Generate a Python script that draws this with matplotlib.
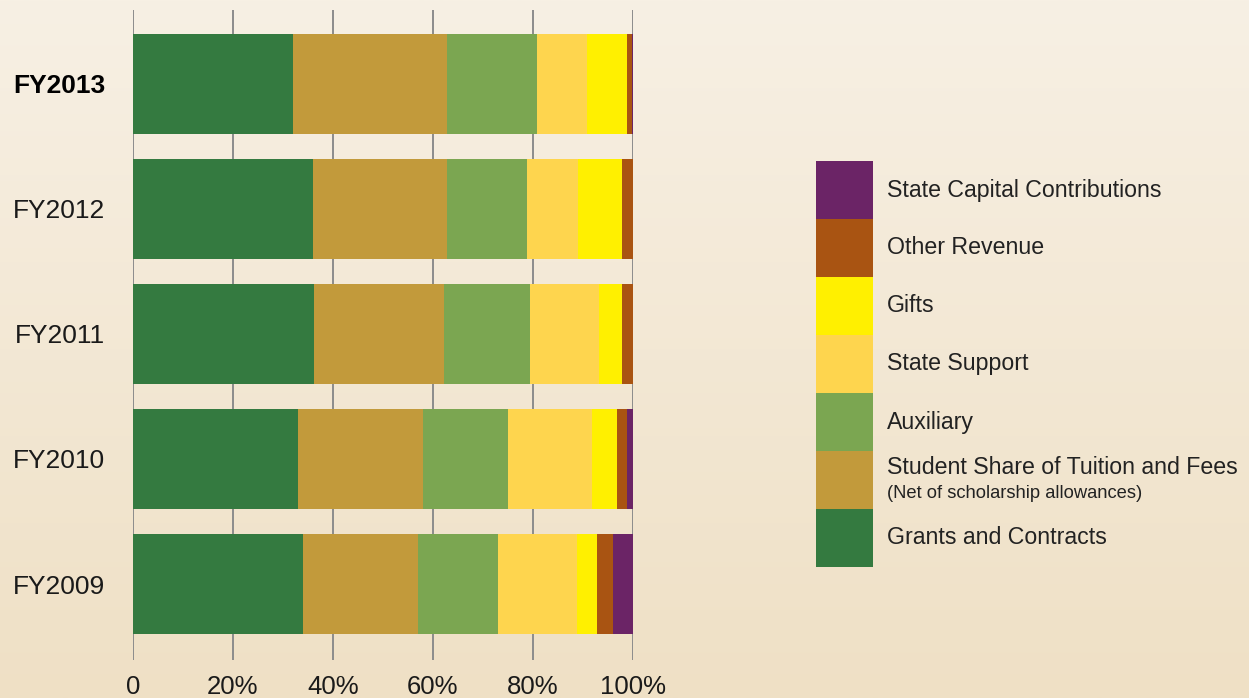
import numpy as np
import matplotlib
matplotlib.use("Agg")
import matplotlib.pyplot as plt
from matplotlib.patches import Rectangle

plt.rcParams['font.family'] = ['Liberation Sans', 'DejaVu Sans']

# Revenue mix by fiscal year (percent of total)
years = ["FY2009", "FY2010", "FY2011", "FY2012", "FY2013"]
grants = [34.0, 33.0, 36.2, 36.0, 32.0]
tuition = [23.0, 25.0, 26.0, 26.8, 30.8]
auxiliary = [16.0, 17.0, 17.2, 16.0, 18.0]
state_support = [15.8, 16.8, 13.8, 10.1, 10.0]
gifts = [4.0, 5.0, 4.6, 8.9, 8.0]
other_revenue = [3.2, 2.0, 2.2, 2.2, 1.0]
state_capital = [4.0, 1.2, 0.0, 0.0, 0.2]

series = [grants, tuition, auxiliary, state_support, gifts, other_revenue, state_capital]
colors = ["#347a40", "#c29a3b", "#7ba651", "#fed54e", "#fff000", "#a95412", "#6b2466"]
legend_labels = ["State Capital Contributions", "Other Revenue", "Gifts", "State Support",
                 "Auxiliary", "Student Share of Tuition and Fees", "Grants and Contracts"]
legend_sub = "(Net of scholarship allowances)"
xticks = [0, 20, 40, 60, 80, 100]
xtick_labels = ["0", "20%", "40%", "60%", "80%", "100%"]

W, H = 1249, 698
fig = plt.figure(figsize=(W / 100, H / 100), dpi=100)

# warm vertical gradient background
bg = fig.add_axes([0, 0, 1, 1], zorder=-10)
top = np.array([0xf7, 0xf0, 0xe4]) / 255
bot = np.array([0xef, 0xe0, 0xc5]) / 255
t = np.linspace(0, 1, 256)[:, None]
grad = top[None, :] * (1 - t) + bot[None, :] * t
bg.imshow(grad[:, None, :], aspect='auto', extent=[0, 1, 0, 1], origin='upper')
bg.set_axis_off()

ax = fig.add_axes([133 / W, 38 / H, 500 / W, 650 / H])
ax.set_facecolor('none')

y = np.arange(len(years))
left = np.zeros(len(years))
for vals, c in zip(series, colors):
    vals = np.array(vals)
    ax.barh(y, vals, left=left, height=0.8, color=c, zorder=3, linewidth=0)
    left += vals

ax.set_xlim(0, 100)
ax.set_ylim(-0.608, 4.592)
ax.set_xticks(xticks)
ax.set_xticklabels(xtick_labels, fontsize=18.5, color="#1a1a1a")
ax.set_yticks(y)
ax.set_yticklabels(years, fontsize=19, color="#1a1a1a")
ax.get_yticklabels()[-1].set_fontweight('bold')
ax.get_yticklabels()[-1].set_color('black')
ax.tick_params(axis='x', length=0, pad=11)
ax.tick_params(axis='y', length=0, pad=20)
for s in ax.spines.values():
    s.set_visible(False)
ax.grid(axis='x', color='#8c8c8c', linewidth=1.4, zorder=1)
ax.set_axisbelow(True)

# legend: stacked colour swatches with labels
sw_x, sw_w, sw_h, sw_top = 816, 57, 58, 161
legend_colors = colors[::-1]
for i, (lab, c) in enumerate(zip(legend_labels, legend_colors)):
    ytop = sw_top + i * sw_h
    fig.add_artist(Rectangle((sw_x / W, 1 - (ytop + sw_h) / H), sw_w / W, sw_h / H,
                             transform=fig.transFigure, facecolor=c, edgecolor='none'))
    yc = 1 - (ytop + sw_h / 2) / H
    if lab.startswith("Student"):
        fig.text(887 / W, 1 - 467 / H, lab, fontsize=16.7, va='center', ha='left', color="#222222")
        fig.text(887 / W, 1 - 494 / H, legend_sub, fontsize=13.2, va='center', ha='left', color="#222222")
    else:
        fig.text(887 / W, yc, lab, fontsize=16.7, va='center', ha='left', color="#222222")

fig.savefig("out.png", dpi=100)
